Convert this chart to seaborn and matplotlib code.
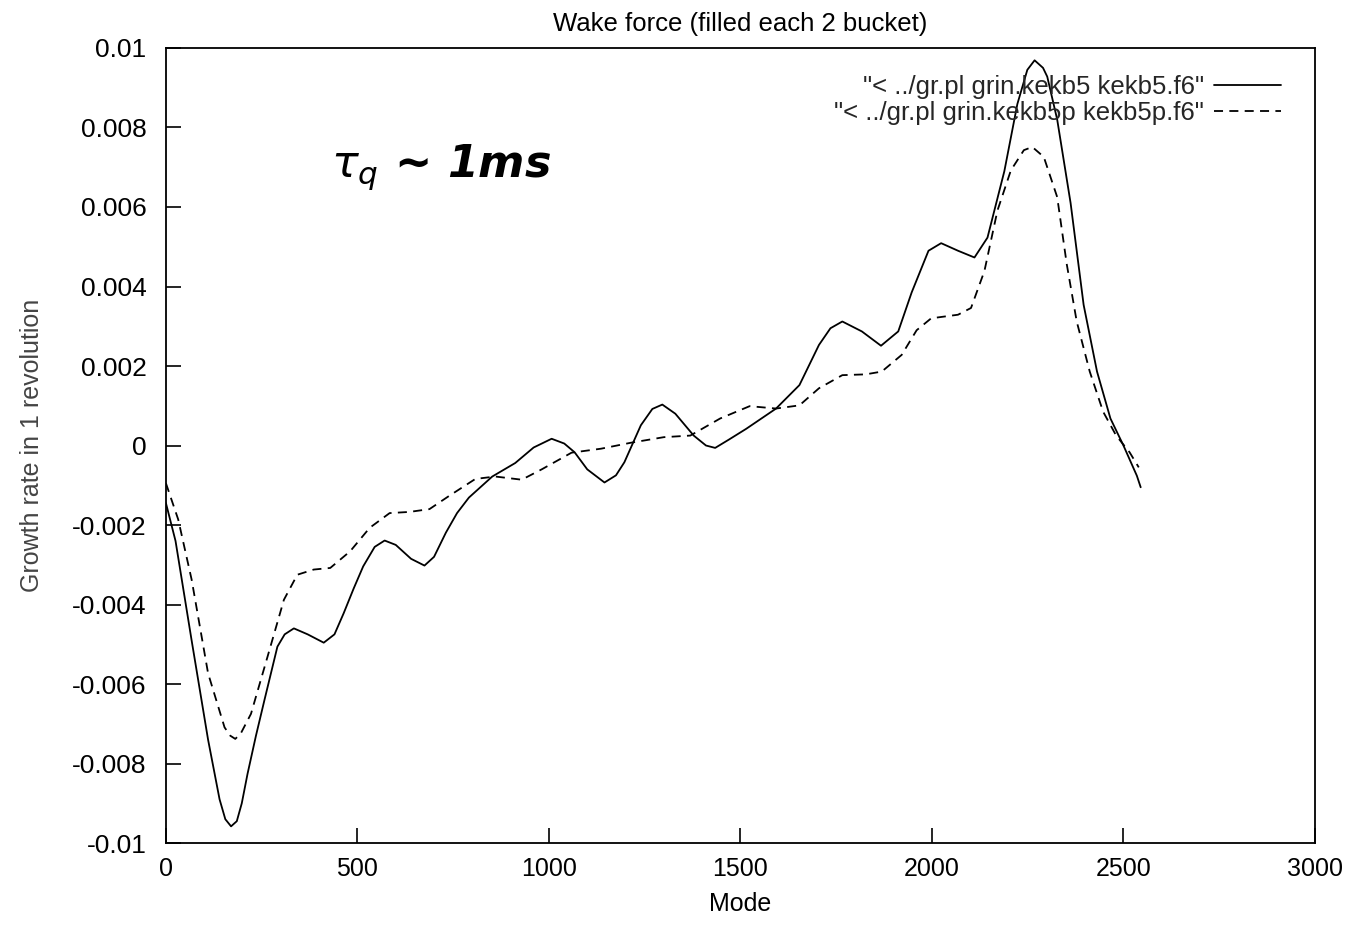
import numpy as np
import pandas as pd
import matplotlib
matplotlib.use("Agg")
import matplotlib.pyplot as plt
import seaborn as sns

# ---- data ----
solid_mode = [0, 25, 67, 110, 140, 155, 170, 185, 198, 213, 235, 257, 291, 310, 334, 370, 412, 440, 464, 490,
              515, 545, 571, 600, 640, 675, 700, 731, 760, 791, 852, 912, 960, 1007, 1040, 1067,
              1100, 1145, 1175, 1197, 1240, 1270, 1296, 1330, 1378, 1410, 1434, 1470, 1515, 1593,
              1654, 1705, 1735, 1766, 1817, 1867, 1912, 1947, 1991, 2024, 2068, 2111, 2145, 2189,
              2223, 2249, 2268, 2290, 2301, 2327, 2362, 2396, 2431, 2466, 2500, 2535, 2545]
solid_rate = [-1.45, -2.4, -4.9, -7.4, -8.9, -9.4, -9.58, -9.45, -9.0, -8.26, -7.3, -6.41, -5.06, -4.75, -4.6,
              -4.75, -4.96, -4.75, -4.22, -3.6, -3.04, -2.55, -2.39, -2.5, -2.85, -3.02, -2.8,
              -2.19, -1.7, -1.31, -0.78, -0.44, -0.05, 0.17, 0.05, -0.17, -0.6, -0.93, -0.75,
              -0.42, 0.51, 0.92, 1.03, 0.8, 0.25, 0.0, -0.06, 0.15, 0.42, 0.93, 1.52, 2.53, 2.95,
              3.12, 2.87, 2.51, 2.87, 3.85, 4.9, 5.09, 4.9, 4.73, 5.23, 6.9, 8.59, 9.45, 9.69,
              9.5, 9.28, 8.2, 6.1, 3.54, 1.86, 0.68, 0.0, -0.76, -1.05]

dash_mode = [0, 32, 67, 110, 153, 168, 181, 195, 222, 265, 308, 343, 386, 429, 481, 532, 584, 636, 688, 739,
             808, 860, 929, 981, 1059, 1136, 1214, 1300, 1369, 1447, 1524, 1593, 1654, 1705, 1766,
             1827, 1869, 1921, 1960, 1998, 2068, 2102, 2137, 2171, 2206, 2240, 2262, 2292, 2327,
             2352, 2378, 2412, 2447, 2481, 2516, 2540]
dash_rate = [-0.95, -1.86, -3.37, -5.73, -7.09, -7.3, -7.38, -7.25, -6.75, -5.32, -3.88, -3.25, -3.12, -3.08,
             -2.66, -2.07, -1.7, -1.67, -1.6, -1.27, -0.84, -0.78, -0.86, -0.6, -0.18, -0.08,
             0.07, 0.21, 0.25, 0.68, 0.99, 0.93, 1.01, 1.44, 1.77, 1.79, 1.86, 2.28, 2.9, 3.2,
             3.29, 3.46, 4.39, 5.91, 6.92, 7.43, 7.51, 7.26, 6.25, 4.56, 3.12, 1.86, 0.85, 0.25,
             -0.17, -0.55]

series_labels = ['"< ../gr.pl grin.kekb5 kekb5.f6"', '"< ../gr.pl grin.kekb5p kekb5p.f6"']
x_ticks = [0, 500, 1000, 1500, 2000, 2500, 3000]
y_ticks = [0.01, 0.008, 0.006, 0.004, 0.002, 0, -0.002, -0.004, -0.006, -0.008, -0.01]
y_tick_labels = ["0.01", "0.008", "0.006", "0.004", "0.002", "0", "-0.002", "-0.004",
                 "-0.006", "-0.008", "-0.01"]

df_solid = pd.DataFrame({"Mode": solid_mode, "rate": np.array(solid_rate) * 1e-3})
df_dash = pd.DataFrame({"Mode": dash_mode, "rate": np.array(dash_rate) * 1e-3})

sns.set_theme(style="white")
plt.rcParams["font.family"] = ["Liberation Sans", "DejaVu Sans"]

fig = plt.figure(figsize=(13.58, 9.30), dpi=100)
ax = fig.add_axes([0.1222, 0.0935, 0.8461, 0.8549])

sns.lineplot(data=df_solid, x="Mode", y="rate", ax=ax, color="black", lw=1.3,
             sort=False, estimator=None, label=series_labels[0])
sns.lineplot(data=df_dash, x="Mode", y="rate", ax=ax, color="black", lw=1.3,
             sort=False, estimator=None, label=series_labels[1], dashes=False)
ax.lines[1].set_linestyle((0, (5, 3.5)))

ax.set_xlim(0, 3000)
ax.set_ylim(-0.01, 0.01)
ax.set_xticks(x_ticks)
ax.set_xticklabels([str(t) for t in x_ticks])
ax.set_yticks(y_ticks)
ax.set_yticklabels(y_tick_labels)

for s in ax.spines.values():
    s.set_color("black")
    s.set_linewidth(1.3)

ax.tick_params(axis="both", which="both", direction="in", length=11, width=1.2,
               colors="black")
ax.tick_params(axis="x", pad=10, bottom=True, top=False, labelsize=18)
ax.tick_params(axis="y", pad=14, left=True, right=False, labelsize=19)

ax.set_xlabel("Mode", fontsize=18, color="black", labelpad=8)
ax.set_ylabel("Growth rate in 1 revolution", fontsize=18, color="#444444", labelpad=20)
ax.set_title("Wake force (filled each 2 bucket)", fontsize=18.5, color="black", pad=12)

leg = ax.legend(loc="upper right", bbox_to_anchor=(0.984, 0.985), frameon=False,
                markerfirst=False, handlelength=2.6, fontsize=18.5, labelspacing=0.05,
                handletextpad=0.4, borderaxespad=0.2)

ax.text(430, 0.0070, r"$\tau_q$ ~ 1ms", fontsize=32, fontweight="bold",
        fontstyle="italic", color="black", ha="left", va="center",
        family=["DejaVu Sans"])

fig.savefig("out.png", dpi=100, facecolor="white")
